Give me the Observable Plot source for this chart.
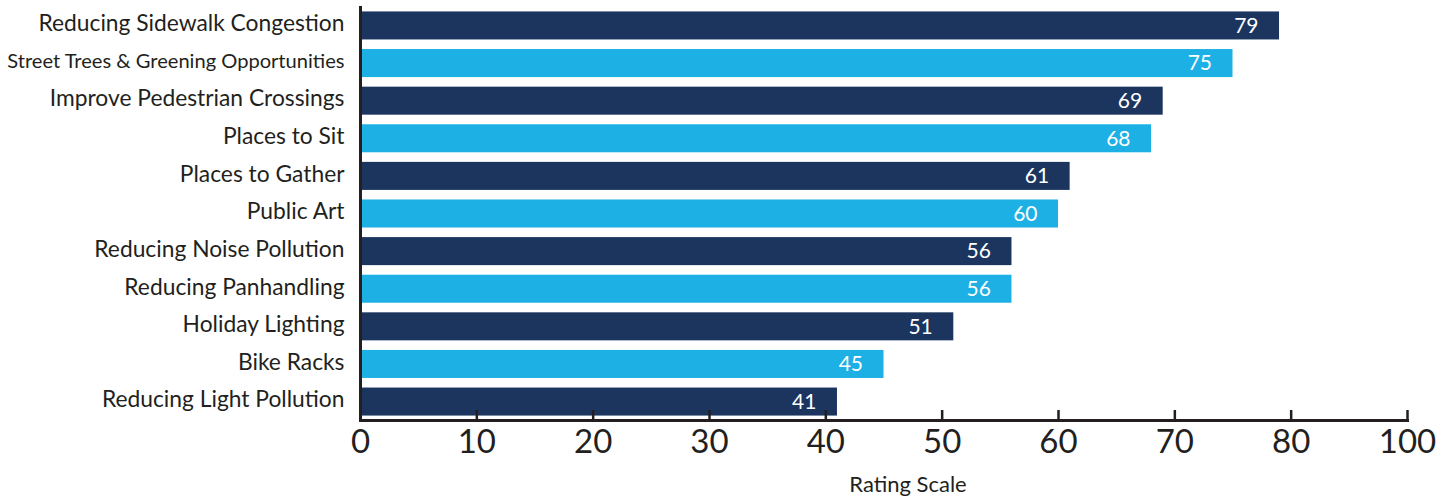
<!DOCTYPE html>
<html>
<head>
<meta charset="utf-8">
<script src="https://cdn.jsdelivr.net/npm/d3@7"></script>
<script src="https://cdn.jsdelivr.net/npm/@observablehq/plot@0.6"></script>
<style>
  html, body { margin: 0; padding: 0; background: #ffffff; }
  #chart svg { display: block; }
</style>
</head>
<body>
<div id="chart"></div>
<script>
const categories = [
  "Reducing Sidewalk Congestion",
  "Street Trees & Greening Opportunities",
  "Improve Pedestrian Crossings",
  "Places to Sit",
  "Places to Gather",
  "Public Art",
  "Reducing Noise Pollution",
  "Reducing Panhandling",
  "Holiday Lighting",
  "Bike Racks",
  "Reducing Light Pollution"
];
const values = [79, 75, 69, 68, 61, 60, 56, 56, 51, 45, 41];
const tickValues = [0, 10, 20, 30, 40, 50, 60, 70, 80, 90];
const tickLabels = ["0", "10", "20", "30", "40", "50", "60", "70", "80", "100"];
const axisTitle = "Rating Scale";

const DARK = "#1b355f";
const LIGHT = "#1cb0e4";
const INK = "#231f20";

const data = categories.map((c, i) => ({label: c, value: values[i], idx: i}));

const chart = Plot.plot({
  width: 1446,
  height: 497,
  marginLeft: 360,
  marginRight: 39,
  marginTop: 7,
  marginBottom: 77,
  style: {fontFamily: "Lato, 'Open Sans', sans-serif", color: INK, background: "#ffffff"},
  x: {domain: [0, 90], axis: null},
  y: {domain: categories, paddingInner: 0.255, paddingOuter: 0.118, round: false, axis: null},
  marks: [
    Plot.barX(data, {x: "value", y: "label", fill: d => d.idx % 2 ? LIGHT : DARK}),
    Plot.text(data, {
      x: "value", y: "label", text: d => String(d.value),
      textAnchor: "end", dx: -21, fill: "white", fontSize: 21
    }),
    Plot.axisY({
      tickSize: 0, tickPadding: 16, label: null,
      fontSize: d => d.length > 32 ? 20.1 : 22.8,
      fill: INK, dy: -2
    }),
    Plot.tickX(tickValues, {x: d => d, insetTop: 403, stroke: INK, strokeWidth: 2.5}),
    Plot.axisX({
      ticks: tickValues, tickFormat: (d) => tickLabels[tickValues.indexOf(d)],
      tickSize: 0, tickPadding: 9, fontSize: 33, label: null, fill: INK
    }),
    Plot.frame({anchor: "left", stroke: INK, strokeWidth: 3}),
    Plot.frame({anchor: "bottom", stroke: INK, strokeWidth: 3}),
    Plot.text([axisTitle], {
      frameAnchor: "bottom", dx: 24, dy: 71, lineAnchor: "bottom",
      fontSize: 22, fill: INK
    })
  ]
});
document.getElementById("chart").appendChild(chart);
</script>
</body>
</html>
